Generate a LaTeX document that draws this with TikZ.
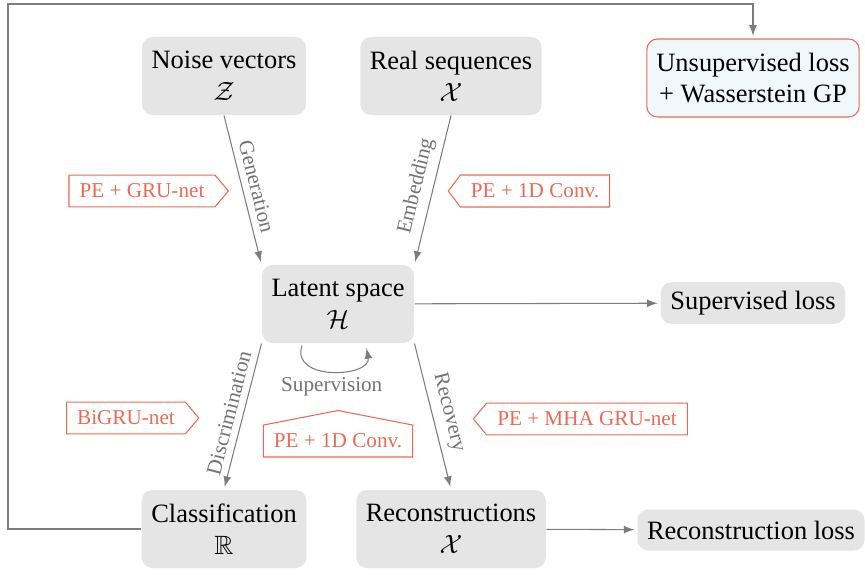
\documentclass[tikz,border=0pt]{standalone}
\usepackage{amssymb}
\usepackage{fontspec}
\setmainfont{Liberation Serif}
\usetikzlibrary{positioning,calc,shapes.symbols}

\definecolor{boxgray}{RGB}{229,229,229}
\definecolor{tagred}{RGB}{236,106,82}
\definecolor{unsupfill}{RGB}{240,248,252}
\definecolor{arrgray}{RGB}{125,125,125}
\definecolor{lblgray}{RGB}{115,115,115}

\begin{document}
\begin{tikzpicture}[x=0.378pt, y=-0.378pt,
  block/.style = {fill=boxgray, rounded corners=4pt, align=center,
    inner xsep=3.6pt},
  twoline/.style = {block, minimum height=29.5pt},
  loss/.style = {block, minimum height=15.5pt},
  tag/.style = {draw=tagred, text=tagred, fill=white, signal,
    font=\footnotesize, inner xsep=4pt, minimum height=12pt},
  lbl/.style = {text=lblgray, font=\footnotesize, midway, sloped, above,
    inner sep=2.5pt},
  arr/.style = {draw=arrgray, -latex, shorten >=1pt}
  ]
  \useasboundingbox (0,0) rectangle (865,575);

  \node (noise) [twoline] at (224,76) {Noise vectors\\ $\mathcal{Z}$};
  \node (real) [twoline] at (451,76) {Real sequences\\ $\mathcal{X}$};
  \node (unsup) [twoline, fill=unsupfill, draw=tagred] at (753,78)
    {Unsupervised loss\\ + Wasserstein GP};
  \node (latent) [twoline] at (338,304) {Latent space\\ $\mathcal{H}$};
  \node (suploss) [loss] at (753,303) {Supervised loss};
  \node (class) [twoline] at (224,529) {Classification\\ $\mathbb{R}$};
  \node (recon) [twoline] at (451,529) {Reconstructions\\ $\mathcal{X}$};
  \node (recloss) [loss] at (751,530) {Reconstruction loss};

  % network tags
  \node (gru) [tag, signal to=east, signal pointer angle=100] at (142,191) {PE + GRU-net};
  \node (convtop) [tag, signal to=west, signal pointer angle=106] at (535,191) {PE + 1D Conv.};
  \node (bigru) [tag, signal to=east, signal pointer angle=100] at (126,418) {BiGRU-net};
  \node (mha) [tag, signal to=west, signal pointer angle=100] at (587,419) {PE + MHA GRU-net};
  \node (convbot) [tag, signal to=north, signal pointer angle=158] at (338,441) {PE + 1D Conv.};

  \draw [arr] (noise.south) -- (latent.north west) node [lbl] {Generation};
  \draw [arr] (real.south) -- (latent.north east) node [lbl] {Embedding};
  \draw [arr] (latent.south west) -- (class.north) node [lbl] {Discrimination};
  \draw [arr] (latent.south east) -- (recon.north) node [lbl] {Recovery};
  \draw [arr] ($(latent.south)+(-36,2)$) .. controls +(-12,36) and +(6,32) ..
    ($(latent.south)+(28,2)$)
    node [pos=0.5, below=-1pt, text=lblgray, font=\footnotesize] {Supervision};

  \draw [arr] (latent) -- (suploss);
  \draw [arr] (recon) -- (recloss);
  \coordinate (corner) at (8,4);
  \draw [arr] (class.west) -| (corner) -| (unsup.north);
\end{tikzpicture}
\end{document}
